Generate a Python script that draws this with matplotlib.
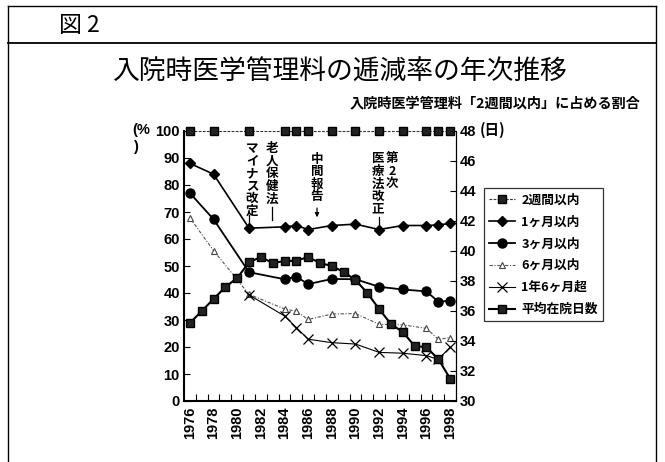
import numpy as np
import matplotlib
matplotlib.use('Agg')
import matplotlib.pyplot as plt
from matplotlib.lines import Line2D

plt.rcParams['font.family'] = ['Noto Sans CJK JP', 'DejaVu Sans']
NUM_FONT = ['Liberation Sans Narrow', 'Liberation Sans', 'DejaVu Sans']
JP_FONT = ['Noto Sans CJK JP', 'DejaVu Sans']

# survey years for the share series, every year for the average stay
survey_years = [1976, 1978, 1981, 1984, 1985, 1986, 1988, 1990, 1992, 1994, 1996, 1997, 1998]
within_2w = [100, 100, 100, 100, 100, 100, 100, 100, 100, 100, 100, 100, 100]
within_1m = [88, 84, 64, 64.5, 65, 63.5, 65, 65.5, 63.5, 65, 65, 65.2, 65.8]
within_3m = [77, 67.3, 47.7, 45.1, 46, 43.3, 45.2, 45.1, 42.3, 41.3, 40.6, 36.8, 37.1]
within_6m = [67.8, 55.7, 39.5, 34.1, 33.2, 30.2, 32.2, 32.4, 28.4, 28.2, 26.9, 22.8, 23.5]
over_18m = [np.nan, np.nan, 39.3, 31.5, 27.2, 22.9, 21.6, 21.1, 18.0, 17.7, 16.8, 15.4, 19.9]

years = list(range(1976, 1999))
avg_days = [35.2, 36.0, 36.8, 37.6, 38.2, 39.25, 39.6, 39.2, 39.33, 39.35, 39.6, 39.2,
            39.0, 38.6, 38.07, 37.2, 36.13, 35.13, 34.6, 33.67, 33.58, 32.8, 31.5]

labels = ['2週間以内', '1ヶ月以内', '3ヶ月以内', '6ヶ月以内', '1年6ヶ月超', '平均在院日数']

# (text, x index, top %, lead line (x, y0, y1), arrow)
events = [
    ('マイナス改定', 5.25, 96.0, (5.0, 69.0, 64.5), False),
    ('老人保健法', 6.95, 96.0, (6.95, 71.8, 67.0), False),
    ('中間報告', 10.75, 92.0, (10.75, 72.5, 67.0), True),
    ('医療法改正', 15.9, 92.2, (16.0, 68.2, 64.0), False),
    ('第2次', 17.1, 92.2, None, False),
]

W, H = 665, 462
fig = plt.figure(figsize=(W / 100, H / 100), dpi=100)

# outer frame and header rule
def fline(x0, y0, x1, y1, lw=1.0):
    fig.add_artist(Line2D([x0 / W, x1 / W], [1 - y0 / H, 1 - y1 / H], color='black', lw=lw))

fline(8, 6, 656, 6)
fline(8, 6, 8, 462)
fline(656, 6, 656, 462)
fline(8, 43, 656, 43, lw=1.3)

fig.text(59 / W, 1 - 25 / H, '図 2', fontsize=16.5, family=JP_FONT, va='center', ha='left')
fig.text(339 / W, 1 - 72 / H, '入院時医学管理料の逓減率の年次推移', fontsize=19.3, family=JP_FONT,
         va='center', ha='center')
fig.text(640 / W, 1 - 103 / H, '入院時医学管理料「2週間以内」に占める割合', fontsize=10.2,
         family=JP_FONT, weight='bold', va='center', ha='right')

ax = fig.add_axes([184 / W, 1 - 401 / H, 272 / W, 270 / H])
ax2 = ax.twinx()

xs = [y - 1976 for y in survey_years]
xd = [y - 1976 for y in years]

h1, = ax.plot(xs, within_2w, color='#333333', lw=0.8, ls=(0, (2.5, 1.2)), marker='s', ms=5.5,
              mfc='#222222', mec='black', clip_on=False, zorder=4)
h2, = ax.plot(xs, within_1m, color='black', lw=1.2, marker='D', ms=4.8, mfc='black', mec='black', zorder=4)
h3, = ax.plot(xs, within_3m, color='black', lw=1.3, marker='o', ms=6.5, mfc='black', mec='black', zorder=4)
h4, = ax.plot(xs, within_6m, color='#555555', lw=0.8, ls=(0, (3, 1.5, 1, 1.5)), marker='^', ms=5,
              mfc='white', mec='#444444', mew=0.8, zorder=4)
h5, = ax.plot(xs, over_18m, color='black', lw=0.8, marker='x', ms=7, mew=0.9, zorder=4)
h6, = ax2.plot(xd, avg_days, color='black', lw=1.5, marker='s', ms=6, mfc='#222222', mec='black', zorder=5)

ax.set_xlim(-0.5, 22.5)
ax.set_ylim(0, 100)
ax2.set_ylim(30, 48)
ax.set_yticks(np.arange(0, 101, 10))
ax2.set_yticks(np.arange(30, 49, 2))

ax.set_xticks(range(0, 23, 2))
ax.set_xticklabels([str(y) for y in years[::2]], rotation=90)
ax.set_xticks(np.arange(0.5, 22, 1), minor=True)
ax.tick_params(axis='x', which='major', length=0, pad=4)
ax.tick_params(axis='x', which='minor', direction='in', length=5, width=0.8)
ax.tick_params(axis='y', direction='in', length=4, width=0.8, pad=3)
ax2.tick_params(axis='y', direction='in', length=4, width=0.8, pad=3)

for t in ax.get_xticklabels() + ax.get_yticklabels() + ax2.get_yticklabels():
    t.set_family(NUM_FONT)
    t.set_fontweight('bold')
    t.set_fontsize(10.5)

for a in (ax, ax2):
    a.spines['top'].set_visible(False)
ax.spines['left'].set_linewidth(1.5)
ax.spines['bottom'].set_linewidth(1.5)
ax2.spines['left'].set_visible(False)
ax2.spines['bottom'].set_visible(False)
ax2.spines['right'].set_linewidth(0.9)
ax.spines['right'].set_visible(False)

fig.text(132 / W, 1 - 130 / H, '(%', fontsize=10.5, family=NUM_FONT, weight='bold', va='center', ha='left')
fig.text(133 / W, 1 - 147 / H, ')', fontsize=10.5, family=NUM_FONT, weight='bold', va='center', ha='left')
fig.text(480 / W, 1 - 130 / H, '(日)', fontsize=10.5, family=JP_FONT, weight='bold', va='center', ha='left')

# vertical captions, one character per step
step = 12.6 * 72 / 100
for text, xi, top, lead, arrow in events:
    for i, ch in enumerate(text):
        ax.annotate(ch, xy=(xi, top), xytext=(0, -i * step), textcoords='offset points',
                    fontsize=9, family=JP_FONT, weight='bold', ha='center', va='top', zorder=6)
    if lead is not None:
        lx, y0, y1 = lead
        if arrow:
            ax.annotate('', xy=(lx, y1), xytext=(lx, y0),
                        arrowprops=dict(arrowstyle='-|>', lw=0.9, color='black', mutation_scale=6))
        else:
            ax.plot([lx, lx], [y0, y1], color='black', lw=0.9, zorder=6)

leg = ax.legend([h1, h2, h3, h4, h5, h6], labels, loc='upper left',
                bbox_to_anchor=(484 / W, 1 - 188 / H), bbox_transform=fig.transFigure,
                borderaxespad=0, frameon=True, fancybox=False, edgecolor='black',
                prop={'family': JP_FONT, 'weight': 'bold', 'size': 9.2},
                handlelength=2.0, handletextpad=0.5, labelspacing=0.7, borderpad=0.42)
leg.get_frame().set_linewidth(0.9)
leg.set_zorder(10)

fig.savefig('out.png', dpi=100)
